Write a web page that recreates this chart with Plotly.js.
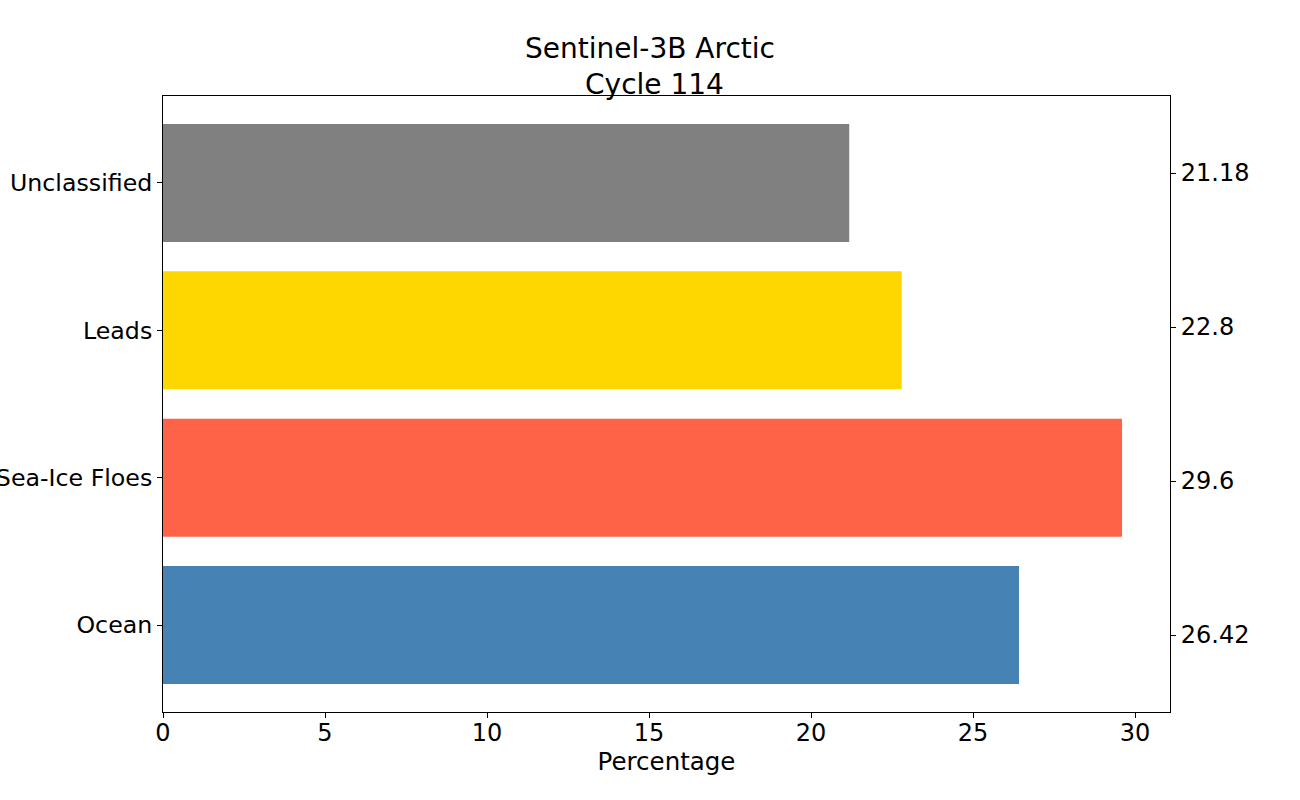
<!DOCTYPE html>
<html>
<head>
<meta charset="utf-8">
<script src="https://cdn.plot.ly/plotly-3.0.1.min.js"></script>
<style>
  html, body { margin: 0; padding: 0; background: #fff; }
  #chart { width: 1300px; height: 800px; }
</style>
</head>
<body>
<div id="chart"></div>
<script>
// categories bottom to top, as matplotlib barh draws them
const categories = ['Ocean', 'Sea-Ice Floes', 'Leads', 'Unclassified'];
const percentages = [26.42, 29.6, 22.8, 21.18];
const barColors = ['steelblue', 'tomato', 'gold', 'grey'];
const rightTickLabels = ['26.42', '29.6', '22.8', '21.18'];

const font = 'DejaVu Sans, sans-serif';

const bars = {
  type: 'bar',
  orientation: 'h',
  x: percentages,
  y: categories,
  width: 0.8,
  marker: { color: barColors, line: { width: 0 } },
  hoverinfo: 'skip',
};

// invisible trace so the twin axis on the right is drawn
const twin = {
  type: 'scatter',
  mode: 'markers',
  x: percentages,
  y: categories.map((c, i) => i),
  yaxis: 'y2',
  marker: { opacity: 0 },
  hoverinfo: 'skip',
  showlegend: false,
};

const layout = {
  width: 1300,
  height: 800,
  margin: { l: 163, r: 130, t: 96, b: 88 },
  paper_bgcolor: '#fff',
  plot_bgcolor: '#fff',
  showlegend: false,
  font: { family: font, color: '#000', size: 24 },
  title: {
    text: 'Sentinel-3B Arctic<br>\u00A0Cycle 114',
    font: { family: font, size: 28, color: '#000' },
    x: 0.5, xanchor: 'center',
    yref: 'container',
    y: 0.9275, yanchor: 'bottom',
  },
  xaxis: {
    range: [0, 31.08],
    tickvals: [0, 5, 10, 15, 20, 25, 30],
    ticks: 'outside', ticklen: 5, tickwidth: 1, tickcolor: '#000',
    ticklabelstandoff: -6,
    showgrid: false, zeroline: false,
    showline: true, linecolor: '#000', linewidth: 1, mirror: true,
    tickfont: { size: 24 },
    title: { text: 'Percentage', font: { size: 24.5 }, standoff: 3 },
  },
  yaxis: {
    type: 'category',
    categoryorder: 'array',
    categoryarray: categories,
    range: [-0.59, 3.59],
    ticks: 'outside', ticklen: 5, tickwidth: 1, tickcolor: '#000',
    showgrid: false, zeroline: false,
    showline: true, linecolor: '#000', linewidth: 1, mirror: true,
    tickfont: { size: 23.7 },
  },
  yaxis2: {
    overlaying: 'y',
    side: 'right',
    range: [-0.5, 3.5],
    tickmode: 'array',
    tickvals: [0, 1, 2, 3],
    ticktext: rightTickLabels,
    ticks: 'outside', ticklen: 5, tickwidth: 1, tickcolor: '#000',
    showgrid: false, zeroline: false, showline: false,
    tickfont: { size: 24 },
  },
};

Plotly.newPlot('chart', [bars, twin], layout, { displayModeBar: false, staticPlot: true });
</script>
</body>
</html>
